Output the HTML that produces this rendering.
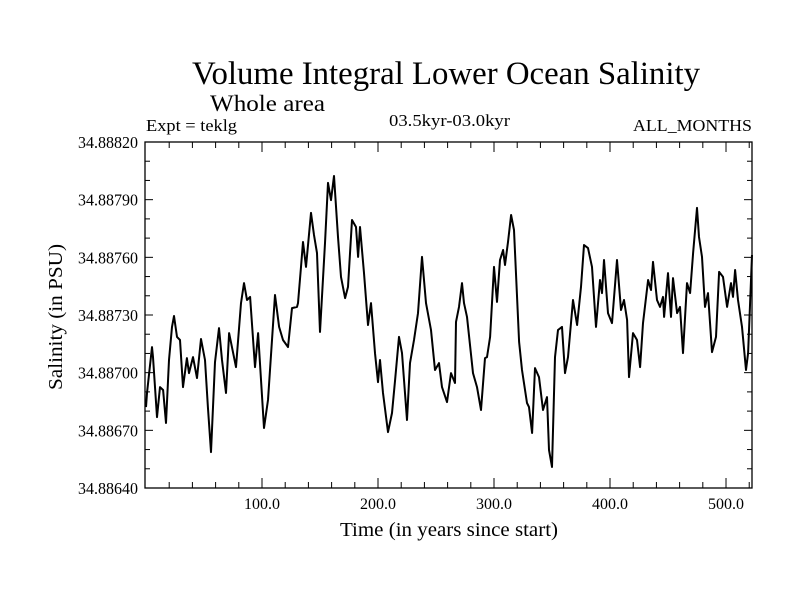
<!DOCTYPE html>
<html><head><meta charset="utf-8"><style>
html,body{margin:0;padding:0;background:#fff;}
svg text{font-family:"Liberation Serif",serif;fill:#000;}
</style></head><body>
<svg id="chart" width="800" height="600" viewBox="0 0 800 600" xmlns="http://www.w3.org/2000/svg">
<rect width="800" height="600" fill="#fff"/>
<text x="192" y="84" font-size="33" textLength="508" lengthAdjust="spacingAndGlyphs">Volume Integral Lower Ocean Salinity</text>
<text x="210" y="111" font-size="23" textLength="115" lengthAdjust="spacingAndGlyphs">Whole area</text>
<text x="146" y="131" font-size="17" textLength="91" lengthAdjust="spacingAndGlyphs">Expt = teklg</text>
<text x="389" y="126" font-size="17" textLength="121" lengthAdjust="spacingAndGlyphs">03.5kyr-03.0kyr</text>
<text x="633" y="131" font-size="17" textLength="119" lengthAdjust="spacingAndGlyphs">ALL_MONTHS</text>
<text x="340" y="536" font-size="20" textLength="218" lengthAdjust="spacingAndGlyphs">Time (in years since start)</text>
<text x="-73" y="0" font-size="20" textLength="146" lengthAdjust="spacingAndGlyphs" transform="translate(62,317) rotate(-90)">Salinity (in PSU)</text>
<g id="axes"></g>
<g id="series"></g>
</svg>
<script>
const years=[0,0.9,5.2,6.0,9.5,12.1,14.7,17.2,19.8,22.4,24.1,26.7,29.3,31.9,35.3,37.1,40.5,44.0,47.4,50.9,53.4,56.0,59.5,62.9,65.5,69.0,71.6,77.6,81.9,84.5,87.1,89.7,94.0,96.6,101.7,105.2,111.2,114.7,118.1,122.4,125.9,130.2,131.0,133.6,135.3,137.9,142.2,144.8,147.4,150.0,154.3,156.9,159.5,162.1,165.5,168.1,171.6,174.1,177.6,181.0,182.8,184.5,187.9,191.4,194.0,197.4,200.0,201.7,204.3,208.6,212.1,214.7,218.1,220.7,225.0,227.6,231.0,234.5,237.9,241.4,245.7,249.1,252.6,255.2,259.5,262.9,266.4,267.2,269.8,272.4,274.1,276.7,281.9,285.3,288.8,292.2,294.0,296.6,300.0,302.6,305.2,307.8,309.5,312.1,314.7,317.2,321.6,324.1,328.4,330.2,332.8,335.3,338.8,342.2,345.7,347.4,350.0,352.6,355.2,358.6,361.2,363.8,368.1,371.6,375.0,377.6,381.0,384.5,387.9,391.4,393.1,394.8,398.3,401.7,406.0,409.5,412.1,414.7,416.4,419.8,423.3,425.9,428.4,432.8,435.3,437.1,440.5,443.1,445.7,446.6,450.0,452.6,454.3,457.8,460.3,462.9,466.4,469.0,471.6,475.0,476.7,479.3,481.9,484.5,487.9,491.4,494.0,497.4,500.9,504.3,506.0,507.8,510.3,513.8,517.2,519.0,522.4];
const salinityOffset=[82.1,89.4,113.3,108.1,76.9,92.5,91.0,73.8,106.6,123.8,129.5,118.6,117.0,92.5,107.6,99.8,108.1,97.2,117.5,106.6,82.1,58.7,105.5,123.2,106.6,89.4,120.6,102.9,136.2,146.6,137.8,139.4,102.9,120.6,71.2,85.8,140.4,123.8,117.0,113.3,133.6,134.2,136.2,155.0,168.0,155.0,183.1,171.6,162.2,121.2,167.4,198.7,189.8,202.3,170.6,149.8,138.8,144.6,179.4,175.8,160.2,175.8,151.8,124.8,136.2,110.2,95.1,106.6,89.4,69.1,79.0,96.2,118.6,110.2,75.4,105.0,117.0,131.0,160.2,136.2,122.2,101.4,105.0,92.5,84.7,99.8,94.6,126.4,134.2,146.6,136.2,129.0,99.8,92.5,80.6,107.6,108.1,118.6,155.0,136.8,158.6,163.8,156.0,168.0,182.0,174.2,116.0,101.4,84.2,82.1,68.6,102.4,97.7,80.6,87.3,59.8,50.9,108.1,122.2,123.8,99.8,108.1,137.8,124.8,144.6,166.4,164.8,155.0,123.8,148.2,141.4,158.6,131.0,125.8,158.6,132.6,137.8,127.4,97.7,120.6,117.0,102.9,125.8,148.2,143.0,157.6,137.8,134.2,139.4,129.0,151.8,129.0,149.2,131.0,134.2,110.2,146.6,141.4,162.2,185.7,170.6,160.2,134.2,141.4,110.7,118.6,152.4,149.8,134.2,146.6,139.4,153.4,137.8,123.8,101.4,110.2,161.2];
const salinityBase=34.886, offsetScale=1e-5;
const yTickLabels=["34.88640","34.88670","34.88700","34.88730","34.88760","34.88790","34.88820"];
const xTickLabels=["100.0","200.0","300.0","400.0","500.0"];

const L=145,R=752,T=142,B=488;
const xMin=-0.86,xMax=522.4,yMin=34.8864,yMax=34.8882;
const xs=v=>L+(v-xMin)/(xMax-xMin)*(R-L);
const ys=v=>B-(v-yMin)/(yMax-yMin)*(B-T);
const NS="http://www.w3.org/2000/svg";
const axes=document.getElementById('axes');
function mk(tag,attrs,parent){const e=document.createElementNS(NS,tag);for(const k in attrs)e.setAttribute(k,attrs[k]);parent.appendChild(e);return e;}

const frame=mk('rect',{x:L,y:T,width:R-L,height:B-T,fill:'none',stroke:'#000','stroke-width':1.3},axes);



for(let i=0;i<=18;i++){
  const v=yMin+i*0.0001, y=ys(v), len=(i%3===0)?8:5;
  const t1=mk('line',{x1:L,y1:y,x2:L+len,y2:y,stroke:'#000','stroke-width':1},axes);
  
  
  const t2=mk('line',{x1:R,y1:y,x2:R-len,y2:y,stroke:'#000','stroke-width':1},axes);
  
  
}
yTickLabels.forEach(s=>{
  const t=mk('text',{x:78,y:ys(parseFloat(s))+6,'font-size':17,textLength:60,lengthAdjust:'spacingAndGlyphs'},axes);
  t.textContent=s;
  
  
});
for(let v=20;v<xMax;v+=20){
  const x=xs(v), len=(v%100===0)?10:6;
  const t1=mk('line',{x1:x,y1:B,x2:x,y2:B-len,stroke:'#000','stroke-width':1},axes);
  
  
  const t2=mk('line',{x1:x,y1:T,x2:x,y2:T+len,stroke:'#000','stroke-width':1},axes);
  
  
}
xTickLabels.forEach(s=>{
  const t=mk('text',{x:xs(parseFloat(s))-18,y:B+21,'font-size':16,textLength:36,lengthAdjust:'spacingAndGlyphs'},axes);
  t.textContent=s;
  
  
});
const d=years.map((yr,i)=>(i?'L':'M')+xs(yr).toFixed(1)+','+ys(salinityBase+salinityOffset[i]*offsetScale).toFixed(1)).join('');
const line=mk('path',{d:d,fill:'none',stroke:'#000','stroke-width':2,'stroke-linejoin':'round'},document.getElementById('series'));


</script>
</body></html>
